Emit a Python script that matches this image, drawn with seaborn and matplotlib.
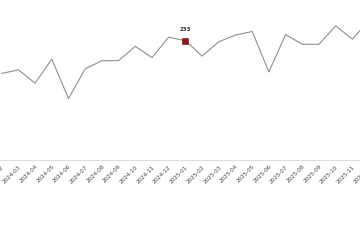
import matplotlib
matplotlib.use("Agg")
import matplotlib.pyplot as plt
import seaborn as sns
import pandas as pd

months = ["2024-02", "2024-03", "2024-04", "2024-05", "2024-06", "2024-07",
          "2024-08", "2024-09", "2024-10", "2024-11", "2024-12", "2025-01",
          "2025-02", "2025-03", "2025-04", "2025-05", "2025-06", "2025-07",
          "2025-08", "2025-09", "2025-10", "2025-11", "2025-12"]
values = [169, 176, 150, 197, 120, 178, 194, 194, 222, 200, 240, 233,
          203, 231, 244, 251, 172, 245, 226, 226, 262, 236, 273]
highlight_month = "2025-01"
highlight_value = 233

sns.set_theme(style="white")
plt.rcParams['font.family'] = ['DejaVu Sans']

df = pd.DataFrame({"month": months, "value": values})
df["pos"] = range(len(months))

fig = plt.figure(figsize=(3.6, 2.5), dpi=100)
ax = fig.add_axes([-0.0185, 0.36, 1.067, 0.64])

sns.lineplot(data=df, x="pos", y="value", ax=ax, color="#8f8f8f", linewidth=0.8)
hi = df[df["month"] == highlight_month]
sns.scatterplot(data=hi, x="pos", y="value", ax=ax, marker="s", s=20,
                color="#8b1a1a", edgecolor="#6e1010", linewidth=0.4, zorder=5)
for _, r in hi.iterrows():
    ax.annotate(str(highlight_value), (r["pos"], r["value"]), xytext=(0, 6),
                textcoords="offset points", ha="center", va="bottom",
                fontsize=4, color="#333333", fontweight="bold")

ax.set_xlim(-0.5, 22.5)
ax.set_ylim(0, 312.5)
ax.set_xticks(df["pos"])
ax.set_xticklabels(months, rotation=45, ha="right", rotation_mode="anchor",
                   fontsize=4.1, color="#444444")
ax.tick_params(axis="x", length=0, pad=3)
ax.set_yticks([])
ax.set_xlabel("")
ax.set_ylabel("")
for s in ["top", "right", "left"]:
    ax.spines[s].set_visible(False)
ax.spines["bottom"].set_color("#dddddd")
ax.spines["bottom"].set_linewidth(0.8)

fig.savefig("out.png", dpi=100)
